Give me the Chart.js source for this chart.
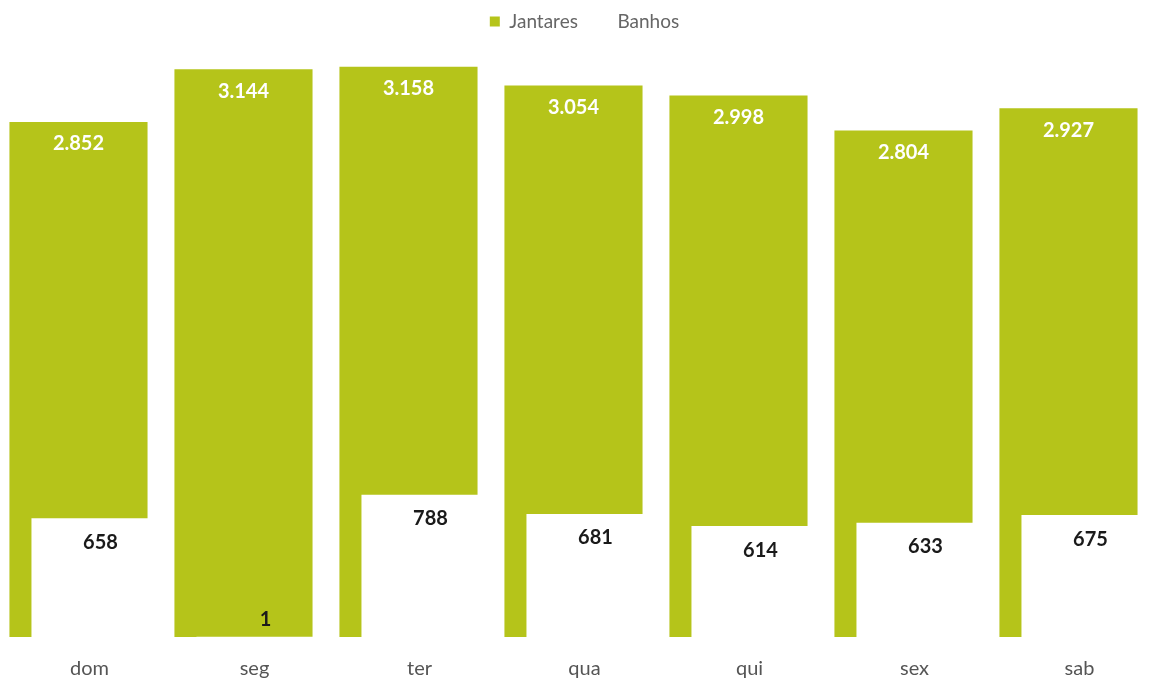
<!DOCTYPE html>
<html>
<head>
<meta charset="utf-8">
<script src="https://cdn.jsdelivr.net/npm/chart.js@4.4.1/dist/chart.umd.min.js"></script>
<style>
  html, body { margin: 0; padding: 0; background: #fff; }
  #wrap { width: 1162px; height: 685px; }
</style>
</head>
<body>
<div id="wrap"><canvas id="chart-jantares-banhos"></canvas></div>
<script>
const days = ["dom", "seg", "ter", "qua", "qui", "sex", "sab"];
const jantares = [2852, 3144, 3158, 3054, 2998, 2804, 2927];
const banhos = [658, 1, 788, 681, 614, 633, 675];

const green = "#B5C41A";

// thousands with a dot, as in pt-BR
const fmt = (v) => String(v).replace(/\B(?=(\d{3})+(?!\d))/g, ".");

const barLabels = {
  id: "barLabels",
  afterDatasetsDraw(chart) {
    // Chart.js paints dataset 0 last, so put the white Banhos bars back on top
    chart.getDatasetMeta(1).controller.draw();

    const ctx = chart.ctx;
    ctx.save();
    ctx.textAlign = "center";
    ctx.textBaseline = "middle";
    ctx.font = "bold 20px Lato";
    chart.data.datasets.forEach((ds, i) => {
      const meta = chart.getDatasetMeta(i);
      meta.data.forEach((bar, j) => {
        const v = ds.data[j];
        let y;
        if (i === 0) {
          ctx.fillStyle = "#ffffff";
          y = bar.y + 22;
        } else {
          ctx.fillStyle = "#1a1a1a";
          y = Math.min(bar.y + 24, bar.base - 17);
        }
        ctx.fillText(fmt(v), bar.x, y);
      });
    });
    ctx.restore();
  },
};

new Chart(document.getElementById("chart-jantares-banhos"), {
  type: "bar",
  data: {
    labels: days,
    datasets: [
      {
        label: "Jantares",
        data: jantares,
        backgroundColor: green,
        borderWidth: 0,
        categoryPercentage: 0.267,
        barPercentage: 6.27,
      },
      {
        label: "Banhos",
        data: banhos,
        backgroundColor: "#ffffff",
        borderWidth: 0,
        categoryPercentage: 0.267,
        barPercentage: 6.27,
      },
    ],
  },
  options: {
    responsive: true,
    maintainAspectRatio: false,
    animation: false,
    layout: {
      padding: { left: 7, right: 0, top: -8, bottom: 0 },
    },
    scales: {
      x: {
        grid: { display: false, drawTicks: false },
        border: { display: false },
        ticks: {
          color: "#555555",
          padding: 20,
          font: { family: "Lato", size: 20 },
        },
        afterFit(scale) {
          scale.height = 48;
        },
      },
      y: {
        display: false,
        min: 0,
        max: 3300,
      },
    },
    plugins: {
      legend: {
        position: "top",
        labels: {
          boxWidth: 10,
          boxHeight: 10,
          padding: 20,
          color: "#666666",
          font: { family: "Lato", size: 19 },
        },
      },
      tooltip: { enabled: false },
    },
  },
  plugins: [barLabels],
});
</script>
</body>
</html>
